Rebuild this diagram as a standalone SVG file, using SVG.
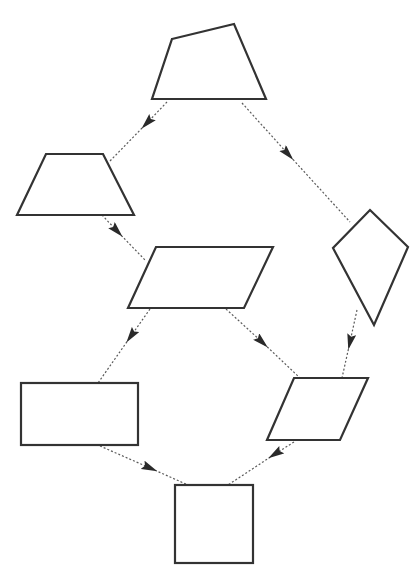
<svg xmlns="http://www.w3.org/2000/svg" width="410" height="566" viewBox="0 0 410 566">
  <defs>
    <marker id="arr" markerUnits="userSpaceOnUse" markerWidth="18" markerHeight="10" refX="8" refY="4.5" orient="auto">
      <path d="M0,0 L16,4.5 L0,9 L2.5,4.5 z" fill="#2a2a2a"/>
    </marker>
    <style>
      .shape { fill: #ffffff; stroke: #333333; stroke-width: 2.2; stroke-linejoin: miter; }
      .conn { fill: none; stroke: #5a5a5a; stroke-width: 1.2; stroke-dasharray: 2 2; marker-mid: url(#arr); }
    </style>
  </defs>
  <rect width="410" height="566" fill="#ffffff"/>
  <g id="connectors">
    <path class="conn" d="M167,102 L147,123 L110,161"/>
    <path class="conn" d="M242,103 L288,154 L350,222"/>
    <path class="conn" d="M102,215 L117,231 L146,261"/>
    <path class="conn" d="M150,309 L131,336 L98,383"/>
    <path class="conn" d="M226,309 L262,342 L300,378"/>
    <path class="conn" d="M357,310 L350,342 L342,378"/>
    <path class="conn" d="M100,446 L150,468 L188,485"/>
    <path class="conn" d="M294,442 L275,454 L228,485"/>
  </g>
  <g id="node-top"><polygon class="shape" points="172,39 234,24 266,99 152,99"/></g>
  <g id="node-trapezoid"><polygon class="shape" points="46,154 103,154 134,215 17,215"/></g>
  <g id="node-center"><polygon class="shape" points="156,247 273,247 244,308 128,308"/></g>
  <g id="node-kite"><polygon class="shape" points="370,210 408,247 374,325 333,248"/></g>
  <g id="node-rect"><rect class="shape" x="21" y="383" width="117" height="62"/></g>
  <g id="node-para"><polygon class="shape" points="294,378 368,378 340,440 267,440"/></g>
  <g id="node-square"><rect class="shape" x="175" y="485" width="78" height="78"/></g>
</svg>
